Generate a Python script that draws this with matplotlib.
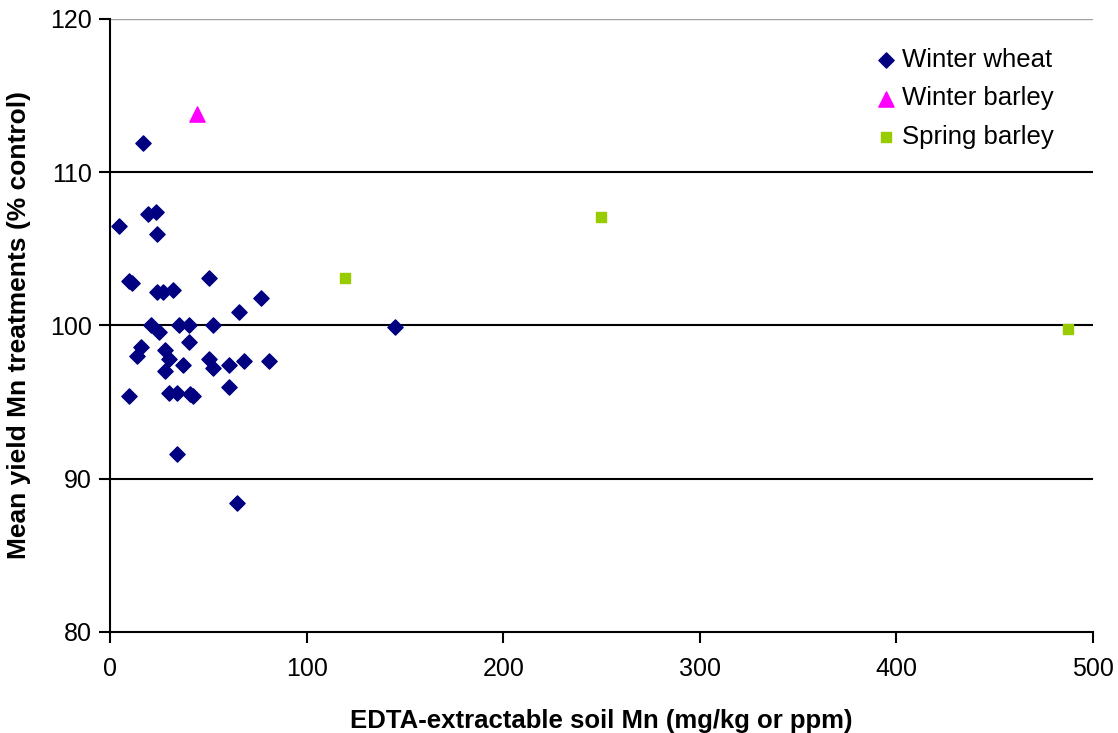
import numpy as np
import matplotlib.pyplot as plt

plt.rcParams['font.family'] = ['Liberation Sans', 'DejaVu Sans']

# Winter wheat
ww_x = [16.6, 19.5, 23.2, 4.4, 23.7, 9.5, 11.0, 24.0, 26.8, 32.2, 50.2, 76.6, 65.4,
        20.7, 24.9, 34.9, 40.0, 52.2, 40.0, 15.6, 13.6, 27.8, 29.8, 36.9, 50.2, 52.5,
        60.3, 68.4, 80.7, 27.8, 9.5, 29.8, 33.9, 40.5, 42.3, 60.3, 33.9, 64.4, 145.0]
ww_y = [111.9, 107.3, 107.4, 106.5, 106.0, 102.9, 102.8, 102.2, 102.2, 102.3, 103.1, 101.8, 100.9,
        100.0, 99.6, 100.0, 100.0, 100.0, 98.9, 98.6, 98.0, 98.4, 97.8, 97.4, 97.8, 97.2,
        97.4, 97.7, 97.7, 97.0, 95.4, 95.6, 95.6, 95.5, 95.4, 96.0, 91.6, 88.4, 99.9]

# Winter barley
wb_x = [44.1]
wb_y = [113.8]

# Spring barley
sb_x = [119.5, 249.7, 487.3]
sb_y = [103.1, 107.1, 99.8]

fig = plt.figure(figsize=(11.18, 7.33), dpi=100)
ax = fig.add_axes([0.0984, 0.1378, 0.8793, 0.8363])

ax.scatter(ww_x, ww_y, marker='D', s=60, color='#000080', label='Winter wheat', zorder=3)
ax.scatter(wb_x, wb_y, marker='^', s=120, color='#FF00FF', label='Winter barley', zorder=3)
ax.scatter(sb_x, sb_y, marker='s', s=60, color='#99CC00', label='Spring barley', zorder=3)

ax.set_xlim(0, 500)
ax.set_ylim(80, 120)
ax.set_xticks(np.arange(0, 501, 100))
ax.set_yticks(np.arange(80, 121, 10))
for yv in [90, 100, 110]:
    ax.axhline(yv, color='black', lw=1.5, zorder=1)
ax.axhline(120, color='#a0a0a0', lw=1, zorder=1)

ax.spines['top'].set_visible(False)
ax.spines['right'].set_visible(False)
ax.spines['left'].set_linewidth(1.5)
ax.spines['bottom'].set_linewidth(1.5)
ax.tick_params(axis='both', direction='out', length=8, width=1.5, labelsize=18)
ax.tick_params(axis='x', pad=10)
ax.tick_params(axis='y', pad=5)

ax.set_xlabel('EDTA-extractable soil Mn (mg/kg or ppm)', fontsize=18.5, fontweight='bold', labelpad=20)
ax.set_ylabel('Mean yield Mn treatments (% control)', fontsize=19, fontweight='bold', labelpad=14)

ax.legend(loc='upper right', frameon=False, fontsize=18.5, handletextpad=0.05,
          bbox_to_anchor=(0.984, 0.99), labelspacing=0.55, handlelength=1.2)

fig.savefig('out.png', dpi=100)
